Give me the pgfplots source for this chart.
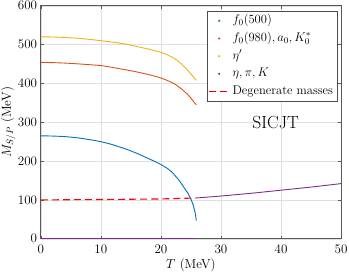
\RequirePackage{fix-cm}
\documentclass[border=0pt]{standalone}
\usepackage{pgfplots}
\pgfplotsset{compat=1.18}
\definecolor{mblue}{rgb}{0,0.447,0.741}
\definecolor{morange}{rgb}{0.85,0.325,0.098}
\definecolor{myellow}{rgb}{0.929,0.694,0.125}
\definecolor{mpurple}{rgb}{0.494,0.184,0.556}
\definecolor{mred}{rgb}{1,0,0}
\pgfplotsset{
  dotlegend/.style={legend image code/.code={\path[draw=none] (0pt,0pt) -- (20pt,0pt); \fill[draw=none,fill=#1] (10pt,0pt) circle (1.2pt);}},
  dashlegend/.style={legend image code/.code={\draw[##1] (0pt,0pt) -- (20pt,0pt);}},
}
\begin{document}
\begin{tikzpicture}
\begin{axis}[
  scale only axis, width=299pt, height=232pt,
  xmin=0, xmax=50, ymin=0, ymax=600,
  xtick={0,10,...,50}, ytick={0,100,...,600},
  grid=major, grid style={black!12, line width=0.4pt},
  tick align=inside, major tick length=3pt,
  axis line style={black!65, line width=0.6pt},
  tick style={black!65, line width=0.5pt},
  ticklabel style={font=\fontsize{13}{14}\selectfont, inner sep=1.5pt},
  yticklabel style={xshift=-2pt},
  xticklabel style={yshift=-4.5pt},
  every axis x label/.style={at={(axis description cs:0.5,0)}, anchor=center, yshift=-26pt,
    font=\fontsize{13}{14}\selectfont, inner sep=1pt},
  every axis y label/.style={at={(axis description cs:0,0.5)}, xshift=-32.4pt, rotate=90, anchor=center,
    font=\fontsize{13}{14}\selectfont, inner sep=1pt},
  xlabel={$T$ (MeV)}, ylabel={$M_{S/P}$ (MeV)},
  legend cell align=left,
  legend style={at={(1,1)}, anchor=north east, xshift=-4pt, yshift=-5pt,
    font=\fontsize{12.5}{13.5}\selectfont, draw=black!70, line width=0.5pt,
    inner sep=1pt,
    nodes={text height=9pt, text depth=3pt, inner sep=2.8pt}},
]
\addlegendimage{dotlegend=mblue}
\addlegendentry{$f_0(500)$}
\addlegendimage{dotlegend=morange}
\addlegendentry{$f_0(980), a_0, K_0^{*}$}
\addlegendimage{dotlegend=myellow}
\addlegendentry{$\eta'$}
\addlegendimage{dotlegend=mpurple}
\addlegendentry{$\eta, \pi, K$}
\addlegendimage{dashlegend, draw=mred, line width=1.1pt, dash pattern=on 7pt off 4pt}
\addlegendentry{Degenerate masses}

\addplot[mblue, line width=0.9pt, forget plot] coordinates {
(0,265) (1,264.8) (2,264.4) (3,263.8) (4,263) (5,261.7) (6,260) (7,258) (8,255.5) (9,252.9) (10,250) (11,246.2) (12,242) (13,237) (14,232) (15,226) (16,220) (17,213) (18,206) (19,199) (20,191) (20.5,186.5) (21,182) (21.5,176) (22,169) (22.5,160) (23,151) (23.5,140) (24,128.5) (24.5,117) (25,102) (25.3,90) (25.5,80) (25.7,67) (25.8,58) (25.9,47)};
\addplot[morange, line width=0.9pt, forget plot] coordinates {
(0,454) (2,453.5) (4,452.3) (6,450.5) (8,448.3) (10,446) (11,443.5) (12,441) (13,438) (14,435.5) (15,432.5) (16,429.5) (17,426) (18,422.5) (19,418.5) (20,414) (21,408) (22,401) (22.5,396.5) (23,390.5) (23.5,385) (24,378) (24.5,371) (25,362) (25.3,356) (25.6,350) (25.9,345)};
\addplot[myellow, line width=0.9pt, forget plot] coordinates {
(0,520) (2,519.5) (4,518.3) (6,516.5) (8,513.5) (10,510) (11,508) (12,506) (13,504) (14,501.5) (15,498.5) (16,495) (17,491.5) (18,488) (19,484) (20,480) (21,474) (22,466.5) (22.5,461.5) (23,455.5) (23.5,449) (24,441) (24.5,433) (25,424) (25.3,418.5) (25.6,413) (25.9,408)};
\addplot[mpurple, line width=0.9pt, forget plot] coordinates {(0,0) (25.9,0)};
\addplot[mpurple, line width=0.9pt, forget plot] coordinates {
(25.9,105) (28,107.5) (30,110) (32.5,113.5) (35,117) (37.5,121) (40,125) (42.5,129) (45,133) (47.5,137.5) (50,142)};
\addplot[draw=mred, line width=1.1pt, dash pattern=on 7pt off 4pt, forget plot] coordinates {
(0,100) (10,101) (20,102.5) (25.9,105)};
\node[font=\fontsize{17.5}{19}\selectfont] at (axis cs:39.1,300) {SICJT};
\end{axis}
\end{tikzpicture}
\end{document}
